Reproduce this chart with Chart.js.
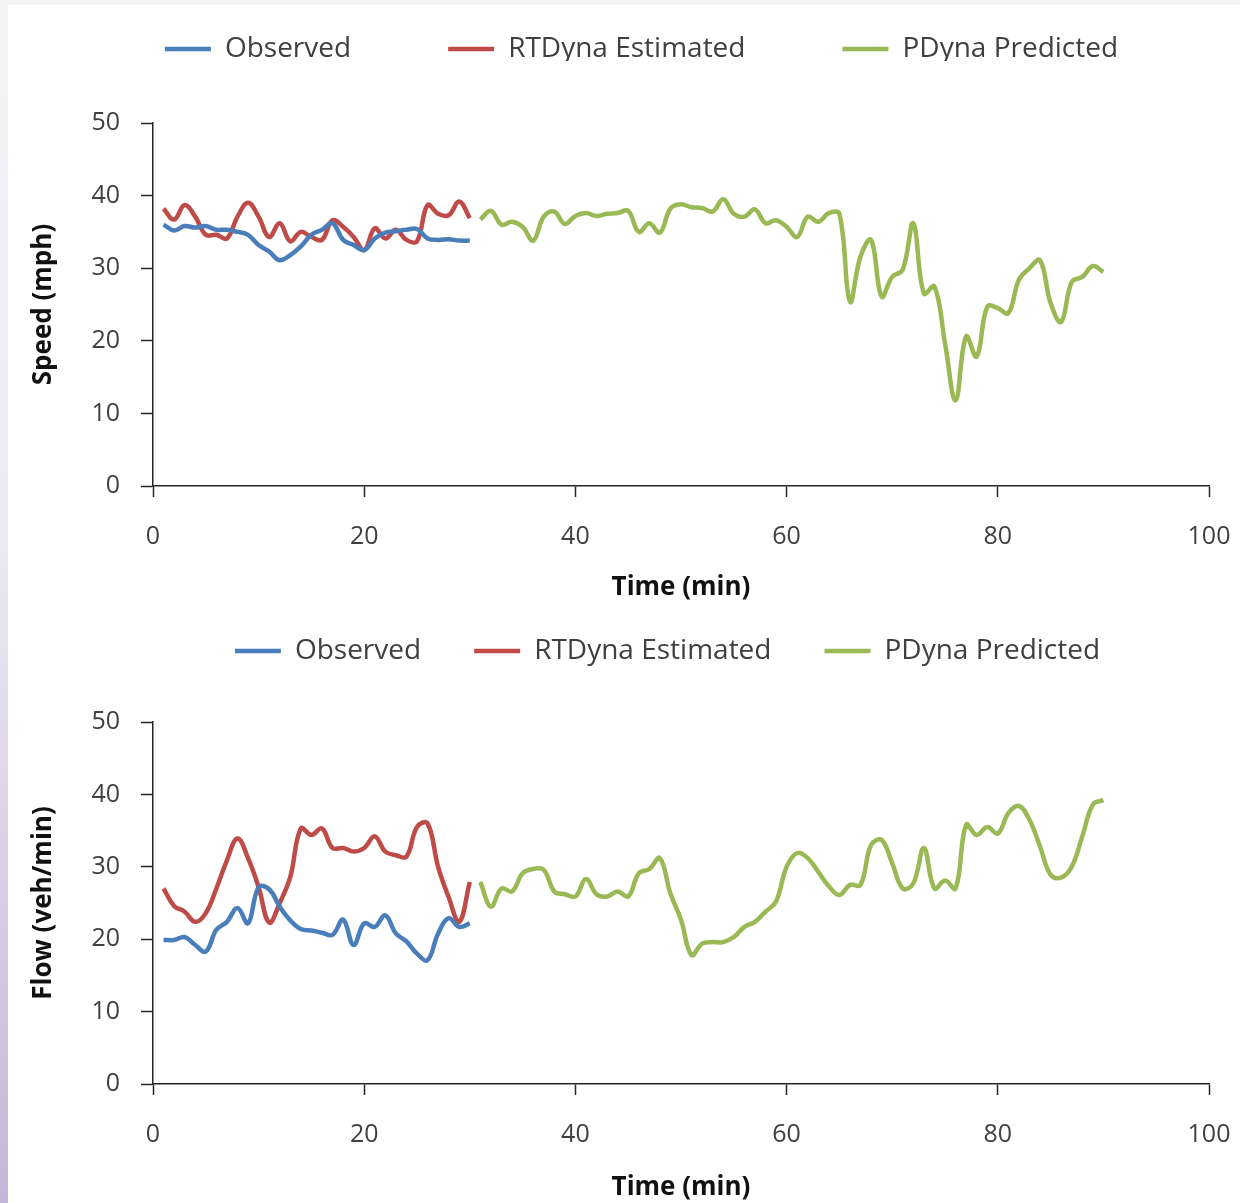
<!DOCTYPE html>
<html><head><meta charset="utf-8">
<script src="https://cdn.jsdelivr.net/npm/chart.js@4/dist/chart.umd.min.js"></script>
<style>
html,body{margin:0;padding:0;background:#fff;}
body{width:1240px;height:1203px;position:relative;overflow:hidden;}
#c1{position:absolute;left:0;top:0;display:block;}
#c2{position:absolute;left:0;top:603px;display:block;}
#edgeTop{position:absolute;left:0;top:0;width:1240px;height:5px;background:#f3f3f3;}
#edgeLeft{position:absolute;left:0;top:0;width:8px;height:1203px;background:linear-gradient(#f4f4f6,#ece9f1 45%,#c3b6d9);}
</style></head>
<body>
<canvas id="c1" width="1240" height="603"></canvas>
<canvas id="c2" width="1240" height="600"></canvas>
<div id="edgeTop"></div><div id="edgeLeft"></div>
<script>
const seriesNames = ['Observed', 'RTDyna Estimated', 'PDyna Predicted'];
const xTitle = 'Time (min)';
const speedTitle = 'Speed (mph)';
const flowTitle = 'Flow (veh/min)';

const timeRT = [1,2,3,4,5,6,7,8,9,10,11,12,13,14,15,16,17,18,19,20,21,22,23,24,25,26,27,28,29,30];
const timePred = [31,32,33,34,35,36,37,38,39,40,41,42,43,44,45,46,47,48,49,50,51,52,53,54,55,56,57,58,59,60,
                  61,62,63,64,65,66,67,68,69,70,71,72,73,74,75,76,77,78,79,80,81,82,83,84,85,86,87,88,89,90];

const speedObserved = [36.0,35.2,35.8,35.6,35.8,35.3,35.3,35.0,34.6,33.2,32.3,31.1,31.8,33.0,34.6,35.3,36.2,33.9,33.2,32.5,34.1,34.9,35.1,35.3,35.4,34.1,33.9,34.0,33.8,33.8];
const speedEstimated = [38.2,36.7,38.7,37.1,34.6,34.6,34.1,37.1,39.0,37.1,34.3,36.2,33.7,35.0,34.3,33.9,36.6,35.7,34.3,32.5,35.5,34.1,35.3,33.9,33.7,38.7,37.5,37.3,39.2,36.9];
const speedPredicted = [36.7,37.9,36.0,36.4,35.7,33.8,37.1,37.8,36.1,37.2,
                        37.6,37.2,37.5,37.6,37.9,35.0,36.2,34.9,38.2,38.8,
                        38.4,38.3,37.8,39.5,37.5,37.1,38.1,36.2,36.6,35.7,
                        34.3,37.1,36.4,37.6,37.5,25.4,31.6,33.9,26.1,28.8,
                        29.8,36.2,26.5,27.5,19.7,11.8,20.6,17.8,24.7,24.5,
                        23.8,28.4,30.0,31.1,25.2,22.6,28.1,28.8,30.3,29.5];

const flowObserved = [19.9,19.9,20.3,19.2,18.3,21.3,22.4,24.3,22.2,27.2,26.9,24.5,22.6,21.4,21.2,20.9,20.6,22.7,19.2,22.2,21.7,23.3,20.8,19.7,18.0,17.1,20.8,22.9,21.7,22.2];
const flowEstimated = [27.0,24.6,23.8,22.4,23.6,27.0,30.9,33.9,31.2,27.2,22.3,25.0,28.6,35.3,34.4,35.3,32.6,32.6,32.1,32.6,34.2,32.1,31.6,31.4,35.5,36.0,30.0,25.8,22.4,27.9];
const flowPredicted = [27.9,24.5,27.0,26.6,29.1,29.7,29.6,26.6,26.2,25.9,
                       28.3,26.2,25.9,26.6,25.9,29.1,29.7,31.2,26.3,22.7,
                       17.8,19.4,19.6,19.6,20.3,21.7,22.4,23.8,25.2,30.0,
                       31.9,31.2,29.3,27.3,26.1,27.5,27.5,33.0,33.7,30.5,
                       27.0,27.7,32.6,27.0,28.1,27.0,35.8,34.4,35.5,34.6,
                       37.4,38.4,36.5,32.8,28.9,28.5,30.0,34.2,38.6,39.2];

const xTickStep = 20, xMin = 0, xMax = 100;
const yTickStep = 10, yMin = 0, yMax = 50;

const FONT = "'Open Sans', 'Noto Sans', sans-serif";
const COLORS = ['#4a7ebb', '#be4b48', '#98b954'];
const AXIS = '#262626';

function pts(ts, vs) { return ts.map((t, i) => ({ x: t, y: vs[i] })); }

function legendPlacer(cfg) {
  return {
    id: 'legendPlacer',
    beforeUpdate(chart) {
      const lg = chart.legend;
      if (lg && !lg.__patched) {
        const orig = lg.fit;
        lg.fit = function () { orig.call(this); this.height = cfg.legendHeight; };
        lg.__patched = true;
      }
    },
    afterLayout(chart) {
      const lg = chart.legend;
      if (!lg) return;
      lg.top = cfg.legendCenterY - cfg.legendPad - cfg.legendFont / 2;
      lg.bottom = lg.top + lg.height;
      const dx = cfg.legendCenterX - (lg.left + lg.right) / 2;
      lg.left += dx; lg.right += dx;
    }
  };
}

function build(id, yTitle, obs, est, pred, cfg) {
  return new Chart(document.getElementById(id), {
    type: 'line',
    data: {
      datasets: [
        { label: seriesNames[0], data: pts(timeRT, obs), borderColor: COLORS[0], backgroundColor: COLORS[0] },
        { label: seriesNames[1], data: pts(timeRT, est), borderColor: COLORS[1], backgroundColor: COLORS[1] },
        { label: seriesNames[2], data: pts(timePred, pred), borderColor: COLORS[2], backgroundColor: COLORS[2] }
      ]
    },
    options: {
      responsive: false,
      animation: false,
      devicePixelRatio: 1,
      layout: { padding: { left: 20, right: 31, top: 0, bottom: 0 } },
      elements: {
        line: { borderWidth: 4.5, tension: 0.4, fill: false },
        point: { radius: 0, hoverRadius: 0, borderWidth: 4.5 }
      },
      plugins: {
        legend: {
          position: 'top',
          labels: {
            usePointStyle: true, pointStyle: 'line', pointStyleWidth: 46,
            padding: cfg.legendPad, color: '#404040',
            font: { family: FONT, size: cfg.legendFont }
          }
        },
        tooltip: { enabled: false }
      },
      scales: {
        x: {
          type: 'linear', min: xMin, max: xMax,
          ticks: { stepSize: xTickStep, padding: 8, color: '#404040', font: { family: FONT, size: 25, lineHeight: 2.56 }, maxRotation: 0 },
          grid: { drawOnChartArea: false, drawTicks: true, tickLength: 11, tickColor: AXIS, tickWidth: 1.5 },
          border: { display: true, color: AXIS, width: 1.5 },
          title: { display: true, text: xTitle, color: '#111', font: { family: FONT, size: 26, weight: 'bold' }, padding: { top: 0, bottom: 0 } },
          afterFit(s) { s.height = cfg.xHeight; }
        },
        y: {
          type: 'linear', min: yMin, max: yMax,
          ticks: { stepSize: yTickStep, padding: 21, color: '#404040', font: { family: FONT, size: 25 } },
          grid: { drawOnChartArea: false, drawTicks: true, tickLength: 12, tickColor: AXIS, tickWidth: 1.5 },
          border: { display: true, color: AXIS, width: 1.5 },
          title: { display: true, text: yTitle, color: '#111', font: { family: FONT, size: 26, weight: 'bold' }, padding: { top: 8, bottom: 0 } },
          afterFit(s) { s.width = 133; }
        }
      }
    },
    plugins: [legendPlacer(cfg)]
  });
}

build('c1', speedTitle, speedObserved, speedEstimated, speedPredicted,
  { legendPad: 97, legendFont: 28, legendHeight: 123, legendCenterY: 49, legendCenterX: 641.5, xHeight: 117 });
build('c2', flowTitle, flowObserved, flowEstimated, flowPredicted,
  { legendPad: 53, legendFont: 28, legendHeight: 119, legendCenterY: 48, legendCenterX: 667.5, xHeight: 119 });
</script>
</body></html>
